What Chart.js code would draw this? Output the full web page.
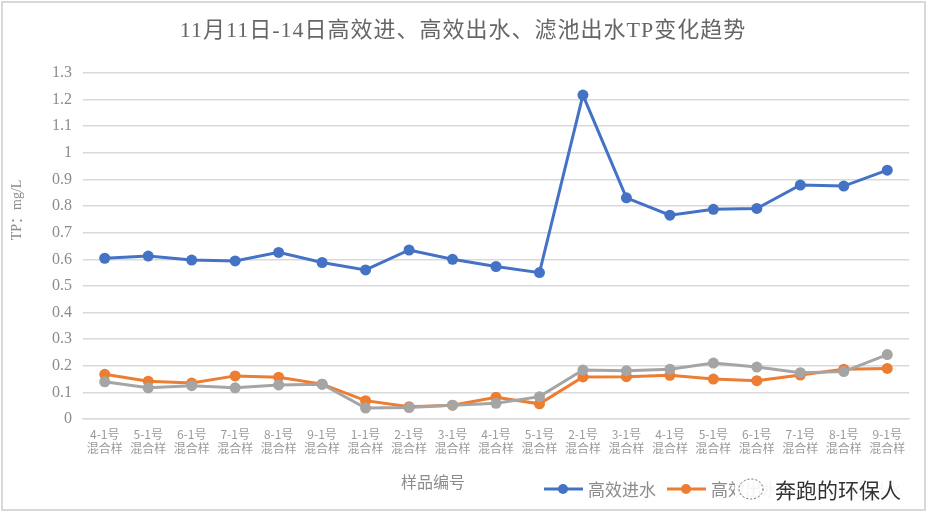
<!DOCTYPE html>
<html>
<head>
<meta charset="utf-8">
<script src="https://cdn.jsdelivr.net/npm/chart.js@4"></script>
<style>
  html, body { margin: 0; padding: 0; background: #fff; }
  #wrap { width: 944px; height: 531px; }
</style>
</head>
<body>
<div id="wrap"><canvas id="chart-tp" width="944" height="531"></canvas></div>
<script>
const categories = [
  ["4-1号", "混合样"], ["5-1号", "混合样"], ["6-1号", "混合样"], ["7-1号", "混合样"],
  ["8-1号", "混合样"], ["9-1号", "混合样"], ["1-1号", "混合样"], ["2-1号", "混合样"],
  ["3-1号", "混合样"], ["4-1号", "混合样"], ["5-1号", "混合样"], ["2-1号", "混合样"],
  ["3-1号", "混合样"], ["4-1号", "混合样"], ["5-1号", "混合样"], ["6-1号", "混合样"],
  ["7-1号", "混合样"], ["8-1号", "混合样"], ["9-1号", "混合样"]
];
const seriesNames = ["高效进水", "高效出水", "滤池出水"];
const inflow = [0.604, 0.612, 0.597, 0.594, 0.626, 0.588, 0.560, 0.635, 0.600, 0.573, 0.550,
  1.217, 0.831, 0.766, 0.788, 0.791, 0.879, 0.875, 0.935];
const outflow = [0.168, 0.142, 0.135, 0.162, 0.157, 0.131, 0.069, 0.046, 0.052, 0.082, 0.057,
  0.158, 0.159, 0.164, 0.150, 0.144, 0.165, 0.187, 0.190];
const filterOut = [0.140, 0.117, 0.125, 0.117, 0.128, 0.131, 0.041, 0.043, 0.052, 0.059, 0.084,
  0.184, 0.181, 0.187, 0.210, 0.195, 0.174, 0.178, 0.242];
const yTicks = [0, 0.1, 0.2, 0.3, 0.4, 0.5, 0.6, 0.7, 0.8, 0.9, 1, 1.1, 1.2, 1.3];

const colors = ["#4472C4", "#ED7D31", "#A5A5A5"];
const grey = "#8c8c8c";
const cjk = '"Noto Sans CJK SC", sans-serif';
const serif = '"Liberation Serif", "Noto Sans CJK SC", serif';

// frame, titles, legend, watermark
const decor = {
  id: "decor",
  beforeDraw(chart) {
    const c = chart.ctx;
    c.save();
    c.fillStyle = "#fff";
    c.fillRect(0, 0, chart.width, chart.height);
    c.strokeStyle = "#d9d9d9";
    c.lineWidth = 2;
    c.strokeRect(2, 2, 923, 508);
    c.restore();
  },
  afterDraw(chart) {
    const c = chart.ctx;
    c.save();
    c.fillStyle = "#666";
    c.font = "22px " + serif;
    c.letterSpacing = "1px";
    c.textAlign = "center";
    c.textBaseline = "middle";
    c.fillText("11月11日-14日高效进、高效出水、滤池出水TP变化趋势", 463, 31);
    c.letterSpacing = "0px";

    c.fillStyle = grey;
    c.font = "16px " + cjk;
    c.fillText("样品编号", 433, 482);

    // y title
    c.save();
    c.translate(17, 210);
    c.rotate(-Math.PI / 2);
    c.font = "14px " + serif;
    c.fillText("TP：mg/L", 0, 0);
    c.restore();

    // legend
    let x = 544;
    const y = 489;
    c.textAlign = "left";
    c.font = "17px " + cjk;
    chart.data.datasets.forEach((ds) => {
      c.strokeStyle = ds.borderColor;
      c.lineWidth = 3;
      c.beginPath();
      c.moveTo(x, y);
      c.lineTo(x + 39, y);
      c.stroke();
      c.fillStyle = ds.borderColor;
      c.beginPath();
      c.arc(x + 19, y, 5, 0, Math.PI * 2);
      c.fill();
      c.fillStyle = grey;
      c.fillText(ds.label, x + 44, y + 1);
      x += 44 + c.measureText(ds.label).width + 11;
    });

    // watermark
    c.fillStyle = "rgba(255,255,255,0.9)";
    c.fillRect(735, 474, 178, 32);
    c.strokeStyle = "#666";
    c.lineWidth = 1;
    c.setLineDash([2, 2]);
    c.beginPath();
    c.ellipse(751, 489, 12, 10, 0, 0, Math.PI * 2);
    c.stroke();
    c.setLineDash([]);
    c.font = "21px " + cjk;
    c.lineWidth = 3;
    c.strokeStyle = "#fff";
    c.strokeText("奔跑的环保人", 775, 490);
    c.fillStyle = "#333";
    c.fillText("奔跑的环保人", 775, 490);
    c.restore();
  }
};

const mk = (i, data, order) => ({
  label: seriesNames[i],
  data: data,
  borderColor: colors[i],
  backgroundColor: colors[i],
  borderWidth: 3,
  pointRadius: 5.5,
  pointHoverRadius: 5.5,
  pointBorderWidth: 0,
  tension: 0,
  order: order,
});

new Chart(document.getElementById("chart-tp"), {
  type: "line",
  data: {
    labels: categories,
    datasets: [mk(0, inflow, 3), mk(1, outflow, 2), mk(2, filterOut, 1)],
  },
  options: {
    responsive: false,
    animation: false,
    layout: { padding: { top: 73, right: 35, left: 0, bottom: 0 } },
    plugins: {
      legend: { display: false },
      title: { display: false },
      tooltip: { enabled: false },
    },
    scales: {
      x: {
        offset: true,
        grid: { display: false, drawTicks: false },
        border: { color: "#d9d9d9", width: 1.5 },
        ticks: {
          color: "#9a9a9a",
          font: { family: cjk, size: 12 },
          maxRotation: 0,
          minRotation: 0,
          autoSkip: false,
          padding: 8,
        },
        afterFit: (s) => { s.height = 112; },
      },
      y: {
        min: 0,
        max: 1.3,
        afterBuildTicks: (s) => { s.ticks = yTicks.map((v) => ({ value: v })); },
        grid: { color: "#d9d9d9", lineWidth: 1.5, drawTicks: false },
        border: { display: false },
        ticks: {
          color: grey,
          font: { family: serif, size: 16 },
          padding: 11,
          callback: (v) => String(+v.toFixed(1)),
        },
        afterFit: (s) => { s.width = 83; },
      },
    },
  },
  plugins: [decor],
});
</script>
</body>
</html>
